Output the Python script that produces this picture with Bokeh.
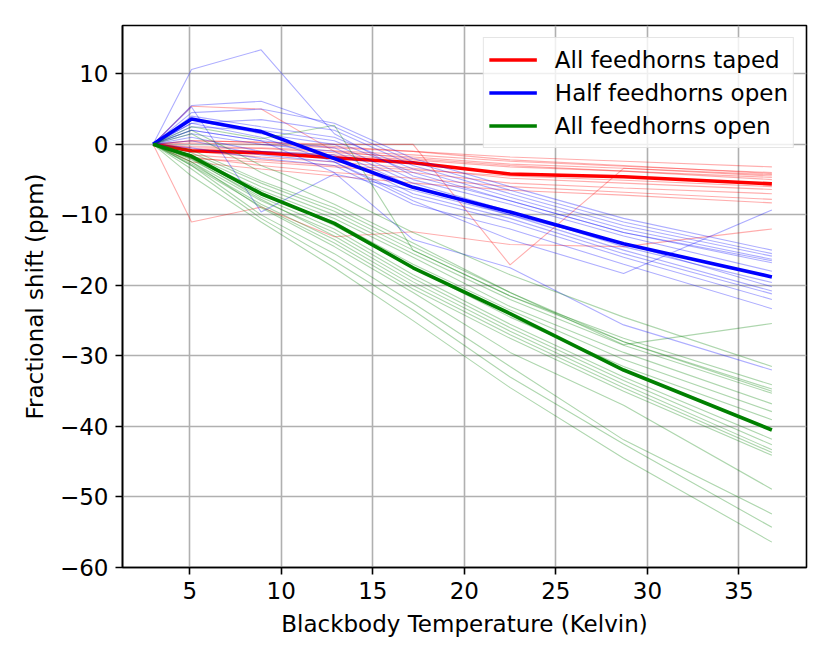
from bokeh.plotting import figure
from bokeh.models import Range1d, Legend, LegendItem, FixedTicker
from bokeh.embed import file_html
from bokeh.resources import INLINE

# ---------------- data ----------------
temperature = [3.0, 5.1, 8.9, 12.9, 17.2, 22.5, 28.7, 36.8]

taped_mean = [0, -0.9, -1.2, -1.9, -2.6, -4.2, -4.6, -5.6]
half_mean = [0, 3.6, 1.8, -2.0, -6.1, -9.6, -14.1, -18.8]
open_mean = [0, -1.7, -7.0, -11.2, -17.5, -24.0, -32.0, -40.5]

taped_runs = [
    [0, 0.2, 0.0, -0.5, -1.0, -1.8, -2.4, -3.2],
    [0, -0.3, -0.5, -0.9, -1.5, -2.4, -3.1, -4.0],
    [0, 0.5, 0.3, -0.3, -1.0, -2.2, -3.0, -4.15],
    [0, -0.5, -0.6, -1.2, -1.8, -2.8, -3.4, -4.3],
    [0, -0.8, -1.0, -1.5, -2.2, -3.2, -3.8, -4.7],
    [0, -1.5, -2.2, -3.0, -3.6, -4.5, -5.1, -6.0],
    [0, -1.0, -1.8, -2.5, -3.4, -4.8, -5.5, -6.4],
    [0, -2.0, -2.5, -3.2, -4.0, -5.5, -6.2, -7.0],
    [0, -1.8, -3.0, -4.0, -4.8, -6.0, -6.8, -7.8],
    [0, -2.5, -3.5, -4.5, -5.5, -6.5, -7.2, -8.3],
    [0, 5.4, 5.0, -1.0, -2.0, -3.0, -3.8, -5.0],
    [0, 0.5, 0.3, 0.0, 0.0, -17.1, -3.4, -4.5],
    [0, -11.0, -8.9, -13.1, -12.4, -14.2, -14.5, -12.0],
]

half_runs = [
    [0, 4.5, 5.0, 3.0, -2.0, -6.0, -10.5, -15.0],
    [0, 5.5, 6.1, 2.5, -2.5, -6.5, -11.0, -15.5],
    [0, 3.0, 3.5, 2.0, -3.0, -7.0, -11.5, -15.85],
    [0, 4.0, 2.5, 1.0, -3.5, -7.5, -12.0, -16.3],
    [0, 2.5, 2.0, 0.5, -4.0, -8.0, -12.5, -16.8],
    [0, 3.5, 1.5, 0.0, -5.0, -8.5, -13.0, -18.0],
    [0, 2.0, 0.5, -0.5, -5.5, -9.5, -14.5, -19.6],
    [0, 1.5, 0.0, -1.0, -6.0, -10.0, -15.0, -20.8],
    [0, 1.0, -1.0, -1.5, -7.0, -10.5, -15.5, -21.2],
    [0, 0.5, -1.5, -2.5, -7.5, -11.0, -16.0, -22.0],
    [0, -0.5, -2.0, -3.0, -8.5, -12.0, -17.0, -23.3],
    [0, 10.6, 13.4, 1.5, -4.5, -8.0, -12.5, -16.5],
    [0, 5.3, -9.6, -4.2, -6.5, -10.0, -14.0, -20.2],
    [0, 3.0, 1.0, -2.5, -8.0, -13.5, -18.3, -9.3],
    [0, 2.0, 0.5, -4.0, -13.5, -17.5, -25.6, -32.0],
]

open_runs = [
    [0, 2.0, -3.0, -7.0, -12.5, -18.5, -24.5, -31.5],
    [0, -1.2, -5.5, -9.5, -15.0, -21.5, -27.5, -34.1],
    [0, 2.5, 0.8, 2.7, -15.0, -21.5, -28.0, -34.7],
    [0, -0.8, -5.2, -9.0, -14.5, -21.0, -28.0, -35.0],
    [0, -1.5, -6.0, -10.0, -15.5, -22.0, -28.5, -35.3],
    [0, -1.8, -6.5, -10.5, -16.0, -23.0, -29.5, -36.8],
    [0, -2.0, -7.0, -11.0, -17.0, -23.5, -30.5, -37.9],
    [0, -1.5, -6.8, -11.5, -17.5, -24.5, -31.5, -39.05],
    [0, -2.2, -7.5, -12.0, -18.5, -25.5, -33.0, -41.8],
    [0, -2.5, -8.0, -12.5, -19.0, -26.0, -33.5, -42.6],
    [0, -2.0, -7.8, -13.0, -19.5, -26.5, -34.0, -43.3],
    [0, -2.8, -8.5, -13.5, -20.0, -27.0, -34.5, -43.7],
    [0, -3.0, -8.8, -14.0, -20.5, -27.5, -35.0, -44.1],
    [0, 1.5, -4.0, -8.5, -14.0, -21.0, -28.4, -25.4],
    [0, -2.5, -9.0, -14.5, -21.0, -29.5, -37.0, -48.9],
    [0, -3.0, -10.0, -15.5, -22.5, -31.5, -41.9, -52.4],
    [0, -3.5, -10.5, -16.5, -23.5, -33.0, -42.5, -54.3],
    [0, -4.5, -11.0, -17.5, -25.0, -34.5, -44.5, -56.4],
]

series_labels = ["All feedhorns taped", "Half feedhorns open", "All feedhorns open"]
series_colors = ["#ff0000", "#0000ff", "#008000"]

x_ticks = [5, 10, 15, 20, 25, 30, 35]
y_ticks = [-60, -50, -40, -30, -20, -10, 0, 10]
y_tick_labels = ["\u221260", "\u221250", "\u221240", "\u221230", "\u221220", "\u221210", "0", "10"]

x_title = "Blackbody Temperature (Kelvin)"
y_title = "Fractional shift (ppm)"

# ---------------- figure ----------------
FONT = "DejaVu Sans"
FS = "23px"

p = figure(width=814, height=648, output_backend="svg", toolbar_location=None,
           x_range=Range1d(1.33, 38.69), y_range=Range1d(-60.0, 16.85),
           min_border_left=122, min_border_right=8, min_border_top=25,
           min_border_bottom=81)

p.background_fill_color = "white"
p.border_fill_color = "white"
p.outline_line_color = "black"
p.outline_line_width = 1.6

for g in (p.xgrid, p.ygrid):
    g.grid_line_color = "#b0b0b0"
    g.grid_line_width = 1.6

p.xaxis.ticker = FixedTicker(ticks=x_ticks)
p.yaxis.ticker = FixedTicker(ticks=y_ticks)
p.yaxis.major_label_overrides = {t: l for t, l in zip(y_ticks, y_tick_labels)}

for ax in (p.xaxis, p.yaxis):
    ax.axis_line_color = "black"
    ax.axis_line_width = 1.6
    ax.major_tick_line_color = "black"
    ax.major_tick_line_width = 1.6
    ax.major_tick_out = 7
    ax.major_tick_in = 0
    ax.minor_tick_line_color = None
    ax.major_label_text_font = FONT
    ax.major_label_text_font_size = FS
    ax.major_label_text_color = "black"
    ax.major_label_standoff = 7
    ax.axis_label_text_font = FONT
    ax.axis_label_text_font_size = FS
    ax.axis_label_text_font_style = "normal"
    ax.axis_label_text_color = "black"
    ax.axis_label_standoff = 9

p.xaxis.axis_label = x_title
p.yaxis.axis_label = y_title

groups = [(taped_runs, taped_mean), (half_runs, half_mean), (open_runs, open_mean)]
items = []
for (runs, mean), label, color in zip(groups, series_labels, series_colors):
    p.multi_line(xs=[temperature] * len(runs), ys=runs, line_color=color,
                 line_width=1.1, line_alpha=0.32)
    r = p.line(temperature, mean, line_color=color, line_width=3.6)
    items.append(LegendItem(label=label, renderers=[r]))

legend = Legend(items=items, location="top_right")
legend.label_text_font = FONT
legend.label_text_font_size = FS
legend.label_text_color = "black"
legend.glyph_width = 48
legend.glyph_height = 33
legend.label_height = 33
legend.label_standoff = 18
legend.spacing = 0
legend.padding = 5
legend.margin = 12
legend.border_line_color = "#cccccc"
legend.border_line_width = 1.6
legend.background_fill_color = "white"
legend.background_fill_alpha = 0.8
p.add_layout(legend)

open("out.html", "w").write(file_html(p, INLINE))
